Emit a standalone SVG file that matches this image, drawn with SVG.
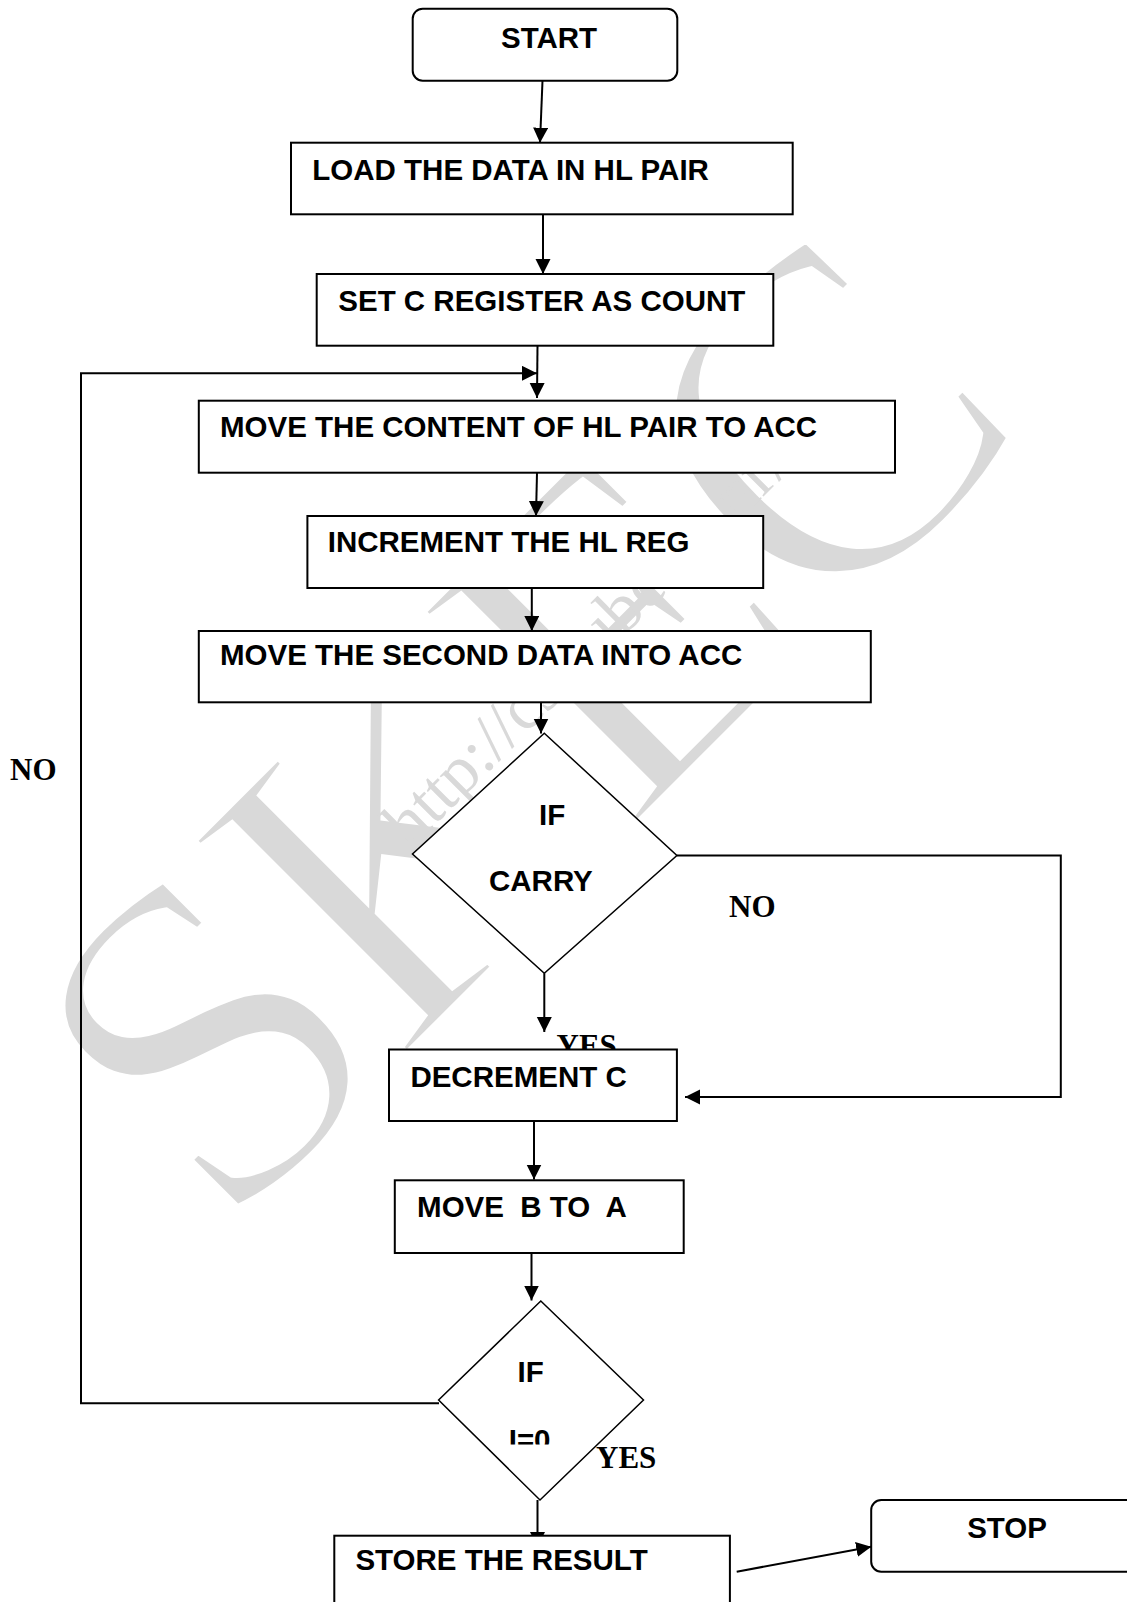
<svg xmlns="http://www.w3.org/2000/svg" width="1127" height="1602" viewBox="0 0 1127 1602">
  <defs>
    <style>
      .box { fill: #ffffff; stroke: #000000; stroke-width: 2; }
      .dia { fill: #ffffff; stroke: #000000; stroke-width: 1.5; }
      .lbl { font-family: "Liberation Sans", Arial, sans-serif; font-weight: bold; font-size: 29.5px; fill: #000000; white-space: pre; }
      .yn { font-family: "Liberation Serif", "Times New Roman", serif; font-weight: bold; font-size: 31px; fill: #000000; }
      .wm { font-family: "Liberation Serif", "Times New Roman", serif; fill: #d9d9d9; }
      .conn { fill: none; stroke: #000000; stroke-width: 2; }
    </style>
    <marker id="arrow" markerUnits="userSpaceOnUse" markerWidth="16" markerHeight="16" refX="15" refY="7.5" orient="auto">
      <path d="M0,0 L15,7.5 L0,15 Z" fill="#000000"/>
    </marker>
    <clipPath id="clipI0">
      <rect x="480" y="1410" width="100" height="34.5"/>
    </clipPath>
  </defs>

  <rect x="0" y="0" width="1127" height="1602" fill="#ffffff"/>

  <!-- background watermark; the white outline thins the letter strokes -->
  <g id="watermark">
    <text class="wm" x="223" y="1240" font-size="465" letter-spacing="-12" stroke="#ffffff" stroke-width="10" transform="rotate(-45 223 1240)">SKEC</text>
    <text class="wm" x="410" y="850" font-size="68" fill="#cfcfcf" transform="rotate(-45 410 850)">http://csetube.co.nr/</text>
  </g>

  <!-- branch labels drawn beneath the nodes -->
  <g id="labels">
    <text class="yn" x="10" y="780">NO</text>
    <text class="yn" x="729" y="917">NO</text>
    <text class="yn" x="556.5" y="1056">YES</text>
    <text class="yn" x="596" y="1468">YES</text>
  </g>

  <g id="connectors">
    <path class="conn" d="M542.5,80.7 L540,142.7" marker-end="url(#arrow)"/>
    <path class="conn" d="M543,214.3 L543,274" marker-end="url(#arrow)"/>
    <path class="conn" d="M537.5,345.7 L537,398" marker-end="url(#arrow)"/>
    <path class="conn" d="M439,1403.3 L81,1403.3 L81,373.3 L537,373.3" marker-end="url(#arrow)"/>
    <path class="conn" d="M537,472.7 L536,516" marker-end="url(#arrow)"/>
    <path class="conn" d="M531.8,583 L531.8,631" marker-end="url(#arrow)"/>
    <path class="conn" d="M541,702.3 L541,733.5" marker-end="url(#arrow)"/>
    <path class="conn" d="M544.3,973.3 L544.3,1032" marker-end="url(#arrow)"/>
    <path class="conn" d="M676.9,855.5 L1060.8,855.5 L1060.8,1097 L685,1097" marker-end="url(#arrow)"/>
    <path class="conn" d="M534,1121 L534,1179.5" marker-end="url(#arrow)"/>
    <path class="conn" d="M531.5,1253 L531.5,1300.5" marker-end="url(#arrow)"/>
    <path class="conn" d="M537.5,1500 L537.5,1547" marker-end="url(#arrow)"/>
    <path class="conn" d="M736.7,1571.7 L871.2,1546.7" marker-end="url(#arrow)"/>
  </g>

  <g id="start">
    <rect class="box" x="412.7" y="8.7" width="264.6" height="72" rx="10"/>
    <text class="lbl" x="501" y="48.3">START</text>
  </g>
  <g id="load">
    <rect class="box" x="291" y="142.7" width="501.7" height="71.6"/>
    <text class="lbl" x="312.3" y="180">LOAD THE DATA IN HL PAIR</text>
  </g>
  <g id="setcount">
    <rect class="box" x="316.7" y="274" width="456.6" height="71.7"/>
    <text class="lbl" x="338.3" y="310.7">SET C REGISTER AS COUNT</text>
  </g>
  <g id="movecontent">
    <rect class="box" x="198.8" y="400.7" width="696.2" height="72"/>
    <text class="lbl" x="220" y="436.7">MOVE THE CONTENT OF HL PAIR TO ACC</text>
  </g>
  <g id="increment">
    <rect class="box" x="307.4" y="516" width="455.8" height="72"/>
    <text class="lbl" x="327.7" y="551.7">INCREMENT THE HL REG</text>
  </g>
  <g id="movesecond">
    <rect class="box" x="198.8" y="631" width="672" height="71.3"/>
    <text class="lbl" x="220" y="665">MOVE THE SECOND DATA INTO ACC</text>
  </g>
  <g id="ifcarry">
    <polygon class="dia" points="544.3,733.3 676.9,855.5 544.3,973.3 412.5,854"/>
    <text class="lbl" x="539" y="825">IF</text>
    <text class="lbl" x="489" y="890.7">CARRY</text>
  </g>
  <g id="decrement">
    <rect class="box" x="389" y="1049.5" width="287.9" height="71.5"/>
    <text class="lbl" x="410.4" y="1086.7">DECREMENT C</text>
  </g>
  <g id="movebtoa">
    <rect class="box" x="394.8" y="1180.3" width="288.9" height="72.7"/>
    <text class="lbl" x="417.1" y="1217.3" xml:space="preserve">MOVE  B TO  A</text>
  </g>
  <g id="ifzero">
    <polygon class="dia" points="540.8,1301 643.5,1400 540,1500 438.6,1400"/>
    <text class="lbl" x="517.6" y="1381.7">IF</text>
    <text class="lbl" x="508.7" y="1449.5" clip-path="url(#clipI0)">I=0</text>
  </g>
  <g id="store">
    <rect class="box" x="334.3" y="1535.7" width="395.6" height="80"/>
    <text class="lbl" x="355.4" y="1570">STORE THE RESULT</text>
  </g>
  <g id="stop">
    <rect class="box" x="871.2" y="1500" width="280" height="71.7" rx="10"/>
    <text class="lbl" x="967.2" y="1538.3">STOP</text>
  </g>
</svg>
